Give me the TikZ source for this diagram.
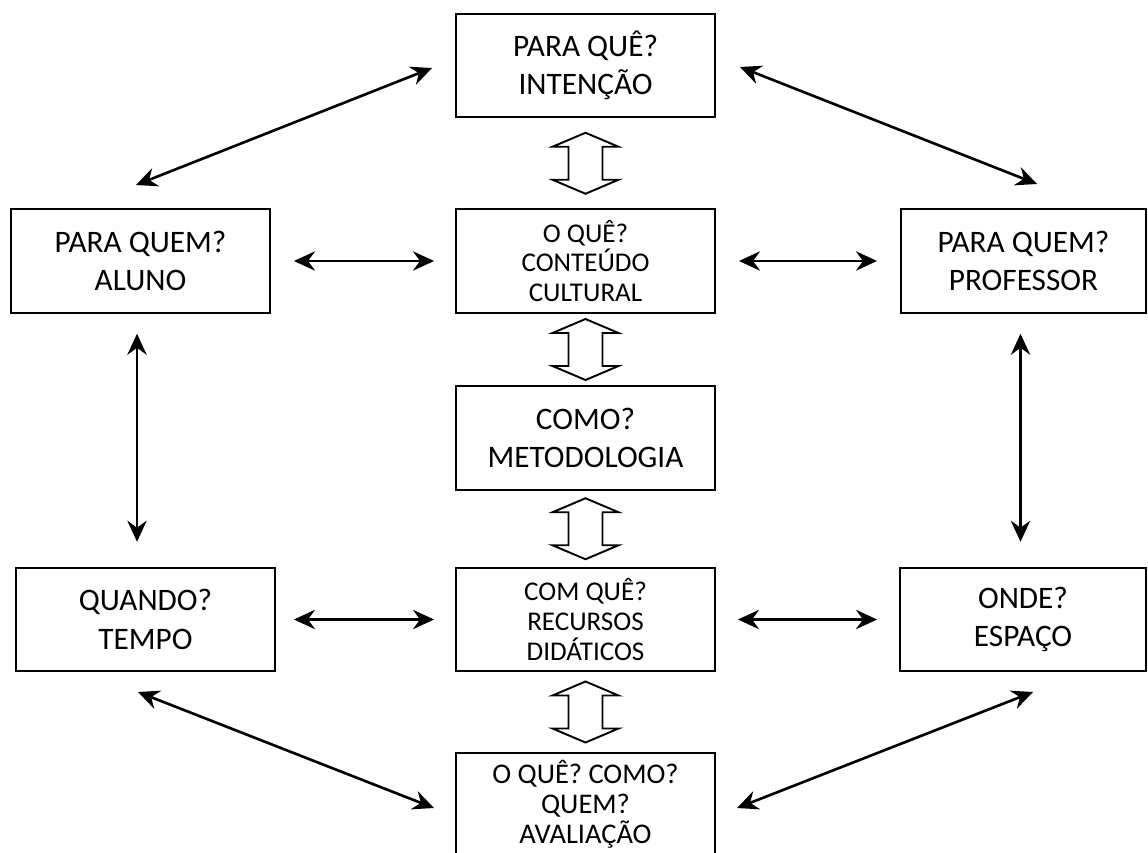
\documentclass[tikz,border=0pt]{standalone}
\usepackage{fontspec}
\setmainfont{Carlito}
\usetikzlibrary{arrows.meta, calc}

\tikzset{
  box/.style={draw, line width=1.1pt, align=center, inner sep=0pt,
    minimum width=5.18cm, minimum height=2.07cm},
  bigtxt/.style={font=\fontsize{17.8pt}{22pt}\selectfont},
  smalltxt/.style={font=\fontsize{15.4pt}{17pt}\selectfont},
  evaltxt/.style={font=\fontsize{16.2pt}{17pt}\selectfont},
  link/.style={line width=1.5pt, {Stealth[length=12pt, width=11pt, inset=4pt]}-{Stealth[length=12pt, width=11pt, inset=4pt]}},
  blockarrow/.pic={
    \draw[line width=1.1pt, fill=white] (0,-30.5) -- (33,-16.5) -- (17,-16.5) -- (17,16.5) -- (33,16.5)
      -- (0,30.5) -- (-33,16.5) -- (-17,16.5) -- (-17,-16.5) -- (-33,-16.5) -- cycle;
  }
}

\begin{document}
\begin{tikzpicture}[x=0.02cm, y=-0.02cm]
  \clip (0,0) rectangle (1148,852);
  % central column
  \node[box, bigtxt] (intent) at (585.5,65.5) {PARA QUÊ?\\INTENÇÃO};
  \node[box, smalltxt] (contents) at (585.5,261) {O QUÊ?\\CONTEÚDO\\CULTURAL};
  \node[box, bigtxt] (method) at (585.5,438) {COMO?\\METODOLOGIA};
  \node[box, smalltxt] (resources) at (585.5,619.5) {COM QUÊ?\\RECURSOS\\DIDÁTICOS};
  \node[box, evaltxt] (evaluation) at (585.5,804.5) {O QUÊ? COMO?\\QUEM?\\AVALIAÇÃO};
  % side boxes
  \node[box, bigtxt] (student) at (140.5,261) {PARA QUEM?\\ALUNO};
  \node[box, bigtxt, minimum width=4.9cm] (teacher) at (1023.5,261) {PARA QUEM?\\PROFESSOR};
  \node[box, bigtxt] (time) at (145.5,619.5) {QUANDO?\\TEMPO};
  \node[box, bigtxt, minimum width=4.92cm] (place) at (1023,619.5) {ONDE?\\ESPAÇO};

  % hollow arrows between the central boxes
  \pic at ($(intent.south)!0.5!(contents.north)$) {blockarrow};
  \pic at ($(contents.south)!0.5!(method.north)$) {blockarrow};
  \pic at ($(method.south)!0.5!(resources.north)$) {blockarrow};
  \pic at ($(resources.south)!0.5!(evaluation.north)$) {blockarrow};

  % horizontal links
  \draw[link, shorten <=4.6mm, shorten >=4.2mm] (student.east) -- (contents.west);
  \draw[link, shorten <=4.6mm, shorten >=4.6mm] (contents.east) -- (teacher.west);
  \draw[link, shorten <=3.6mm, shorten >=4.2mm] (time.east) -- (resources.west);
  \draw[link, shorten <=4.4mm, shorten >=4.4mm] (resources.east) -- (place.west);

  % vertical links
  \draw[link, shorten <=4mm, shorten >=5mm] ([xshift=-0.7mm]student.south) -- ([xshift=-0.7mm]student.south |- time.north);
  \draw[link, shorten <=4mm, shorten >=5mm] ([xshift=-0.6mm]teacher.south) -- ([xshift=-0.6mm]teacher.south |- place.north);

  % diagonal links
  \coordinate (d1a) at (136,185);
  \coordinate (d1b) at (432,68);
  \coordinate (d2a) at (740,67);
  \coordinate (d2b) at (1037,184);
  \coordinate (d3a) at (138,692);
  \coordinate (d3b) at (434,808);
  \coordinate (d4a) at (737,808);
  \coordinate (d4b) at (1033,692);
  \draw[link] (d1a) -- (d1b);
  \draw[link] (d2a) -- (d2b);
  \draw[link] (d3a) -- (d3b);
  \draw[link] (d4a) -- (d4b);
\end{tikzpicture}
\end{document}
